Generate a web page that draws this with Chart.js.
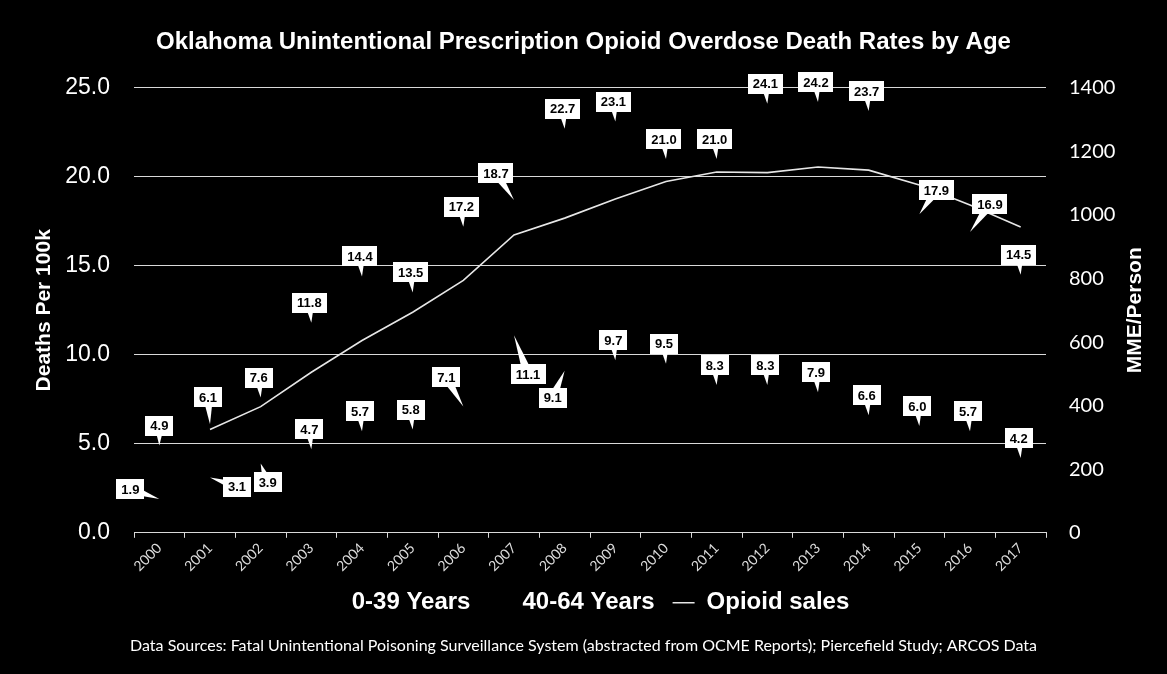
<!DOCTYPE html>
<html>
<head>
<meta charset="utf-8">
<title>Oklahoma Unintentional Prescription Opioid Overdose Death Rates by Age</title>
<script src="https://cdn.jsdelivr.net/npm/chart.js@4"></script>
<style>
  html, body { margin: 0; padding: 0; background: #000; }
  #wrap { width: 1167px; height: 674px; position: relative; }
</style>
</head>
<body>
<div id="wrap"><canvas id="myChart"></canvas></div>
<script>
const years = ['2000', '2001', '2002', '2003', '2004', '2005', '2006', '2007', '2008',
  '2009', '2010', '2011', '2012', '2013', '2014', '2015', '2016', '2017'];

// deaths per 100k
const ages0to39 = [1.9, 3.1, 3.9, 4.7, 5.7, 5.8, 7.1, 11.1, 9.1, 9.7, 9.5, 8.3, 8.3, 7.9, 6.6, 6.0, 5.7, 4.2];
const ages40to64 = [4.9, 6.1, 7.6, 11.8, 14.4, 13.5, 17.2, 18.7, 22.7, 23.1, 21.0, 21.0, 24.1, 24.2, 23.7, 17.9, 16.9, 14.5];

// MME per person
const opioidSales = [null, 325, 397, 505, 605, 694, 794, 937, 990, 1050, 1105, 1135, 1133, 1151, 1141, 1094, 1031, 962];

const deathTicks = { min: 0, max: 25, step: 5 };
const mmeTicks = { min: 0, max: 1400, step: 200 };
const mmeTitle = 'MME/Person';

// callout box offsets from the point (dx, dy), only where a label was moved
const defaultCallout = [-2, -20];
const calloutsYoung = { 0: [-29, -10], 1: [27, 9], 2: [7, 19], 6: [-17, -29], 7: [14, 39], 8: [-12, 27] };
const calloutsOld = { 0: [0, -20], 1: [-2, -27], 7: [-18, -27], 15: [17, -24], 16: [20, -28] };

const calloutPlugin = {
  id: 'callouts',
  afterDatasetsDraw(chart) {
    const ctx = chart.ctx;
    ctx.save();
    ctx.font = 'bold 13px "Liberation Sans", Arial, sans-serif';
    ctx.textAlign = 'center';
    ctx.textBaseline = 'middle';
    chart.data.datasets.forEach((ds, di) => {
      if (!ds.callouts) return;
      const meta = chart.getDatasetMeta(di);
      meta.data.forEach((pt, i) => {
        const v = ds.data[i];
        if (v == null) return;
        const text = v.toFixed(1);
        const off = ds.callouts[i] || defaultCallout;
        const cx = pt.x + off[0];
        const cy = pt.y + off[1];
        const w = ctx.measureText(text).width + 10;
        const h = 20;
        const ang = Math.atan2(pt.y - cy, pt.x - cx);
        const nx = -Math.sin(ang) * 5;
        const ny = Math.cos(ang) * 5;
        ctx.fillStyle = '#ffffff';
        ctx.beginPath();
        ctx.moveTo(cx + nx, cy + ny);
        ctx.lineTo(pt.x, pt.y);
        ctx.lineTo(cx - nx, cy - ny);
        ctx.closePath();
        ctx.fill();
        ctx.fillRect(Math.round(cx - w / 2), Math.round(cy - h / 2), Math.round(w), h);
        ctx.fillStyle = '#000000';
        ctx.fillText(text, cx, cy + 1);
      });
    });
    ctx.restore();
  }
};

// right axis title reads bottom-to-top, which the built-in scale title can't do
const rightTitlePlugin = {
  id: 'rightTitle',
  afterDraw(chart) {
    const s = chart.scales.y1;
    const ctx = chart.ctx;
    ctx.save();
    ctx.translate(s.right - 32, (chart.chartArea.top + chart.chartArea.bottom) / 2);
    ctx.rotate(-Math.PI / 2);
    ctx.font = 'bold 21px "Liberation Sans", Arial, sans-serif';
    ctx.fillStyle = '#ffffff';
    ctx.textAlign = 'center';
    ctx.textBaseline = 'middle';
    ctx.fillText(mmeTitle, 0, 0);
    ctx.restore();
  }
};

const blackBackground = {
  id: 'blackBackground',
  beforeDraw(chart) {
    const ctx = chart.ctx;
    ctx.save();
    ctx.fillStyle = '#000';
    ctx.fillRect(0, 0, chart.width, chart.height);
    ctx.restore();
  }
};

Chart.defaults.font.family = '"Liberation Sans", Arial, sans-serif';
Chart.defaults.color = '#ffffff';

const renderChart = () => {
  const ctx = document.getElementById('myChart').getContext('2d');
  new Chart(ctx, {
    type: 'line',
    data: {
      labels: years,
      datasets: [
        {
          label: '0-39 Years',
          data: ages0to39,
          borderColor: '#000',
          backgroundColor: '#000',
          showLine: false,
          pointRadius: 0,
          yAxisID: 'y',
          callouts: calloutsYoung,
        },
        {
          label: '40-64 Years',
          data: ages40to64,
          borderColor: '#000',
          backgroundColor: '#000',
          showLine: false,
          pointRadius: 0,
          yAxisID: 'y',
          callouts: calloutsOld,
        },
        {
          label: 'Opioid sales',
          data: opioidSales,
          borderColor: '#e6e6e6',
          backgroundColor: '#e6e6e6',
          borderWidth: 1.6,
          pointRadius: 0,
          tension: 0,
          yAxisID: 'y1',
        },
      ],
    },
    options: {
      responsive: true,
      maintainAspectRatio: false,
      animation: false,
      layout: { padding: 0 },
      plugins: {
        tooltip: { enabled: false },
        title: {
          display: true,
          text: 'Oklahoma Unintentional Prescription Opioid Overdose Death Rates by Age',
          color: '#ffffff',
          font: { size: 24, weight: 'bold' },
          padding: { top: 28, bottom: 31 },
        },
        subtitle: {
          display: true,
          position: 'bottom',
          text: 'Data Sources: Fatal Unintentional Poisoning Surveillance System (abstracted from OCME Reports); Piercefield Study; ARCOS Data',
          color: '#ffffff',
          font: { family: 'Lato, "Open Sans", sans-serif', size: 16 },
          padding: { top: 11, bottom: 19 },
        },
        legend: {
          position: 'bottom',
          labels: {
            color: '#ffffff',
            font: { size: 24, weight: 'bold' },
            usePointStyle: true,
            pointStyle: 'line',
            pointStyleWidth: 22,
            padding: 18,
          },
        },
      },
      scales: {
        x: {
          offset: true,
          afterFit: (s) => { s.height = 40; },
          border: { display: true, color: '#d9d9d9', width: 1 },
          grid: {
            offset: true,
            drawOnChartArea: false,
            drawTicks: true,
            tickLength: 5,
            color: '#d9d9d9',
          },
          ticks: {
            color: '#dcdcdc',
            autoSkip: false,
            minRotation: 45,
            maxRotation: 45,
            padding: 2,
            font: { family: 'Lato, "Open Sans", sans-serif', size: 14 },
          },
        },
        y: {
          position: 'left',
          min: deathTicks.min,
          max: deathTicks.max,
          afterFit: (s) => { s.width = 134; },
          border: { display: false },
          grid: { color: '#d9d9d9', lineWidth: 1, drawTicks: false },
          ticks: {
            stepSize: deathTicks.step,
            padding: 24,
            color: '#ffffff',
            font: { size: 23 },
            callback: (v) => v.toFixed(1),
          },
          title: {
            display: true,
            text: 'Deaths Per 100k',
            color: '#ffffff',
            font: { size: 21, weight: 'bold' },
            padding: { top: 32, bottom: 0 },
          },
        },
        y1: {
          position: 'right',
          min: mmeTicks.min,
          max: mmeTicks.max,
          afterFit: (s) => { s.width = 121; },
          border: { display: false },
          grid: { drawOnChartArea: false, drawTicks: false },
          ticks: {
            stepSize: mmeTicks.step,
            padding: 23,
            color: '#ffffff',
            font: { family: 'Lato, "Open Sans", sans-serif', size: 20 },
            callback: (v) => String(v),
          },
        },
      },
    },
    plugins: [blackBackground, calloutPlugin, rightTitlePlugin],
  });
};

document.addEventListener('DOMContentLoaded', renderChart);
</script>
</body>
</html>
